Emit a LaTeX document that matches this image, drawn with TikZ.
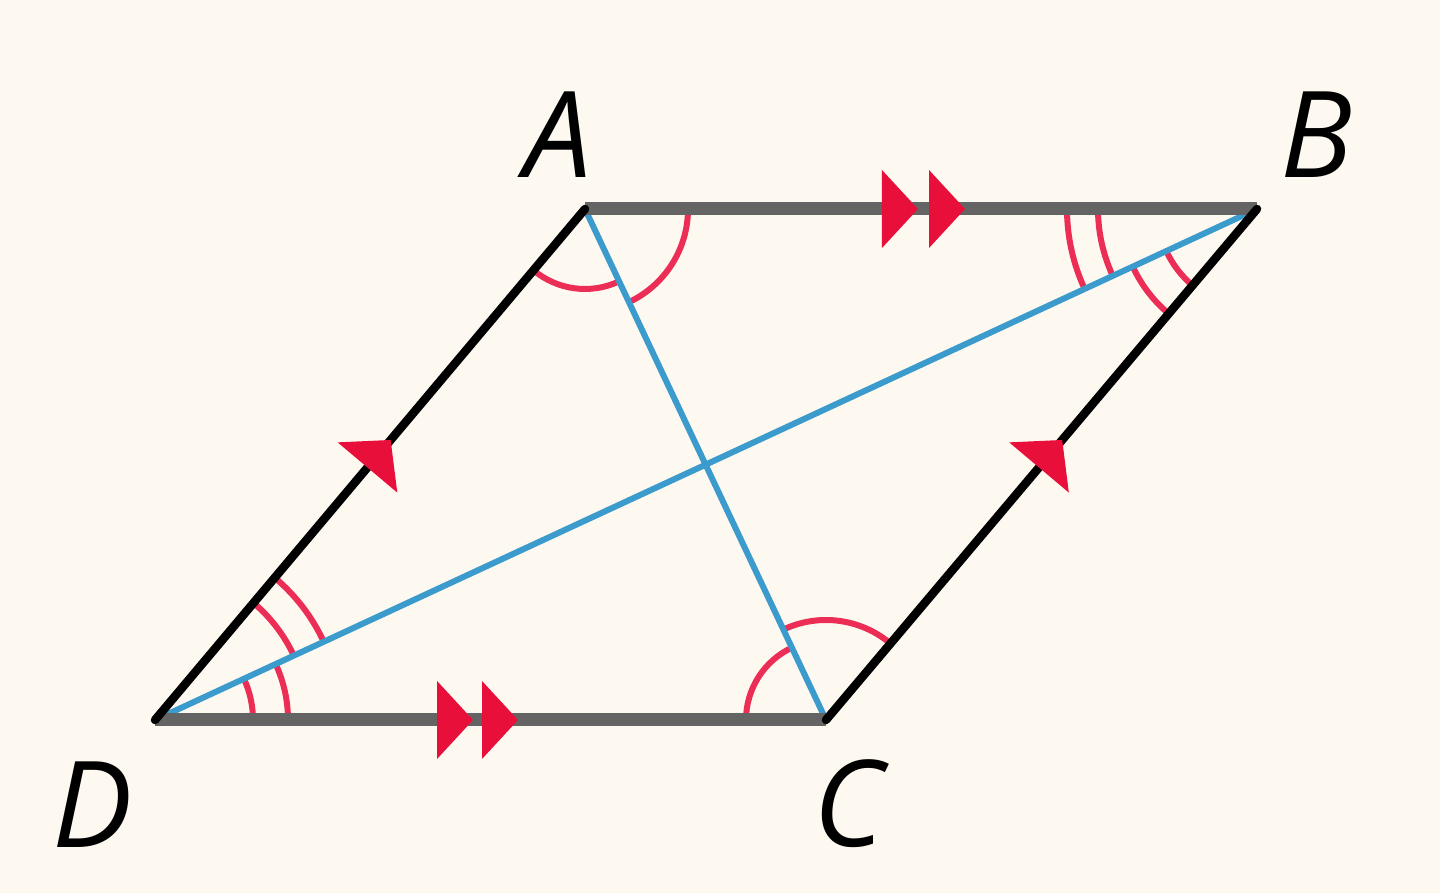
\documentclass[tikz,border=0pt]{standalone}
\usepackage{fontspec}
\newfontfamily\labelfont{Open Sans}
\usetikzlibrary{calc}
\definecolor{bgcream}{RGB}{253,249,240}
\definecolor{diagblue}{RGB}{60,155,205}
\definecolor{markred}{RGB}{236,45,85}
\definecolor{arrowred}{RGB}{232,16,58}
\definecolor{sidegray}{RGB}{100,100,100}
\begin{document}
\begin{tikzpicture}[x=1pt,y=1pt,
  lbl/.style={font=\labelfont\itshape\fontsize{120}{122}\selectfont, inner sep=0pt, text=black},
  hside/.style={draw=sidegray, line width=13pt},
  sside/.style={draw=black, line width=8.5pt, line cap=round},
  diag/.style={draw=diagblue, line width=6pt},
  amark/.style={draw=markred, line width=6pt},
  headtri/.pic={\fill[arrowred] (0,0) -- (-36,39) -- (-36,-39) -- cycle;}]
\fill[bgcream] (0,0) rectangle (1440,893);
\useasboundingbox (0,0) rectangle (1440,893);
\coordinate (A) at (585,684);
\coordinate (B) at (1257,684);
\coordinate (C) at (826,173);
\coordinate (D) at (155,173);
% angle marks
\draw[amark] ($(A)+(229.9:80)$) arc[start angle=229.9, end angle=295.25, radius=80];
\draw[amark] ($(A)+(295.25:103)$) arc[start angle=295.25, end angle=360, radius=103];
\draw[amark] ($(C)+(115.25:80)$) arc[start angle=115.25, end angle=180, radius=80];
\draw[amark] ($(C)+(49.85:100)$) arc[start angle=49.85, end angle=115.25, radius=100];
\draw[amark] ($(B)+(180:159)$) arc[start angle=180, end angle=204.88, radius=159];
\draw[amark] ($(B)+(180:190)$) arc[start angle=180, end angle=204.88, radius=190];
\draw[amark] ($(B)+(204.88:100)$) arc[start angle=204.88, end angle=229.85, radius=100];
\draw[amark] ($(B)+(204.88:137)$) arc[start angle=204.88, end angle=229.85, radius=137];
\draw[amark] ($(D)+(0:98)$) arc[start angle=0, end angle=24.88, radius=98];
\draw[amark] ($(D)+(0:133)$) arc[start angle=0, end angle=24.88, radius=133];
\draw[amark] ($(D)+(24.88:153)$) arc[start angle=24.88, end angle=49.9, radius=153];
\draw[amark] ($(D)+(24.88:186)$) arc[start angle=24.88, end angle=49.9, radius=186];
% diagonals
\draw[diag] (A) -- (C);
\draw[diag] (B) -- (D);
% sides
\draw[hside] (A) -- (B);
\draw[hside] (D) -- (C);
\draw[sside] (D) -- (A);
\draw[sside] (C) -- (B);
% arrowheads
\pic at ($(A)!0.4955!(B)$) {headtri};
\pic at ($(A)!0.5655!(B)$) {headtri};
\pic at ($(D)!0.474!(C)$) {headtri};
\pic at ($(D)!0.541!(C)$) {headtri};
\pic[rotate=49.9] at ($(D)!0.548!(A)$) {headtri};
\pic[rotate=49.9] at ($(C)!0.548!(B)$) {headtri};
% labels
\node[lbl] (lA) at (558,758) {A};
\node[lbl] (lB) at (1316,758) {B};
\node[lbl] (lC) at (849,89) {C};
\node[lbl] (lD) at (93,88) {D};
\end{tikzpicture}
\end{document}
